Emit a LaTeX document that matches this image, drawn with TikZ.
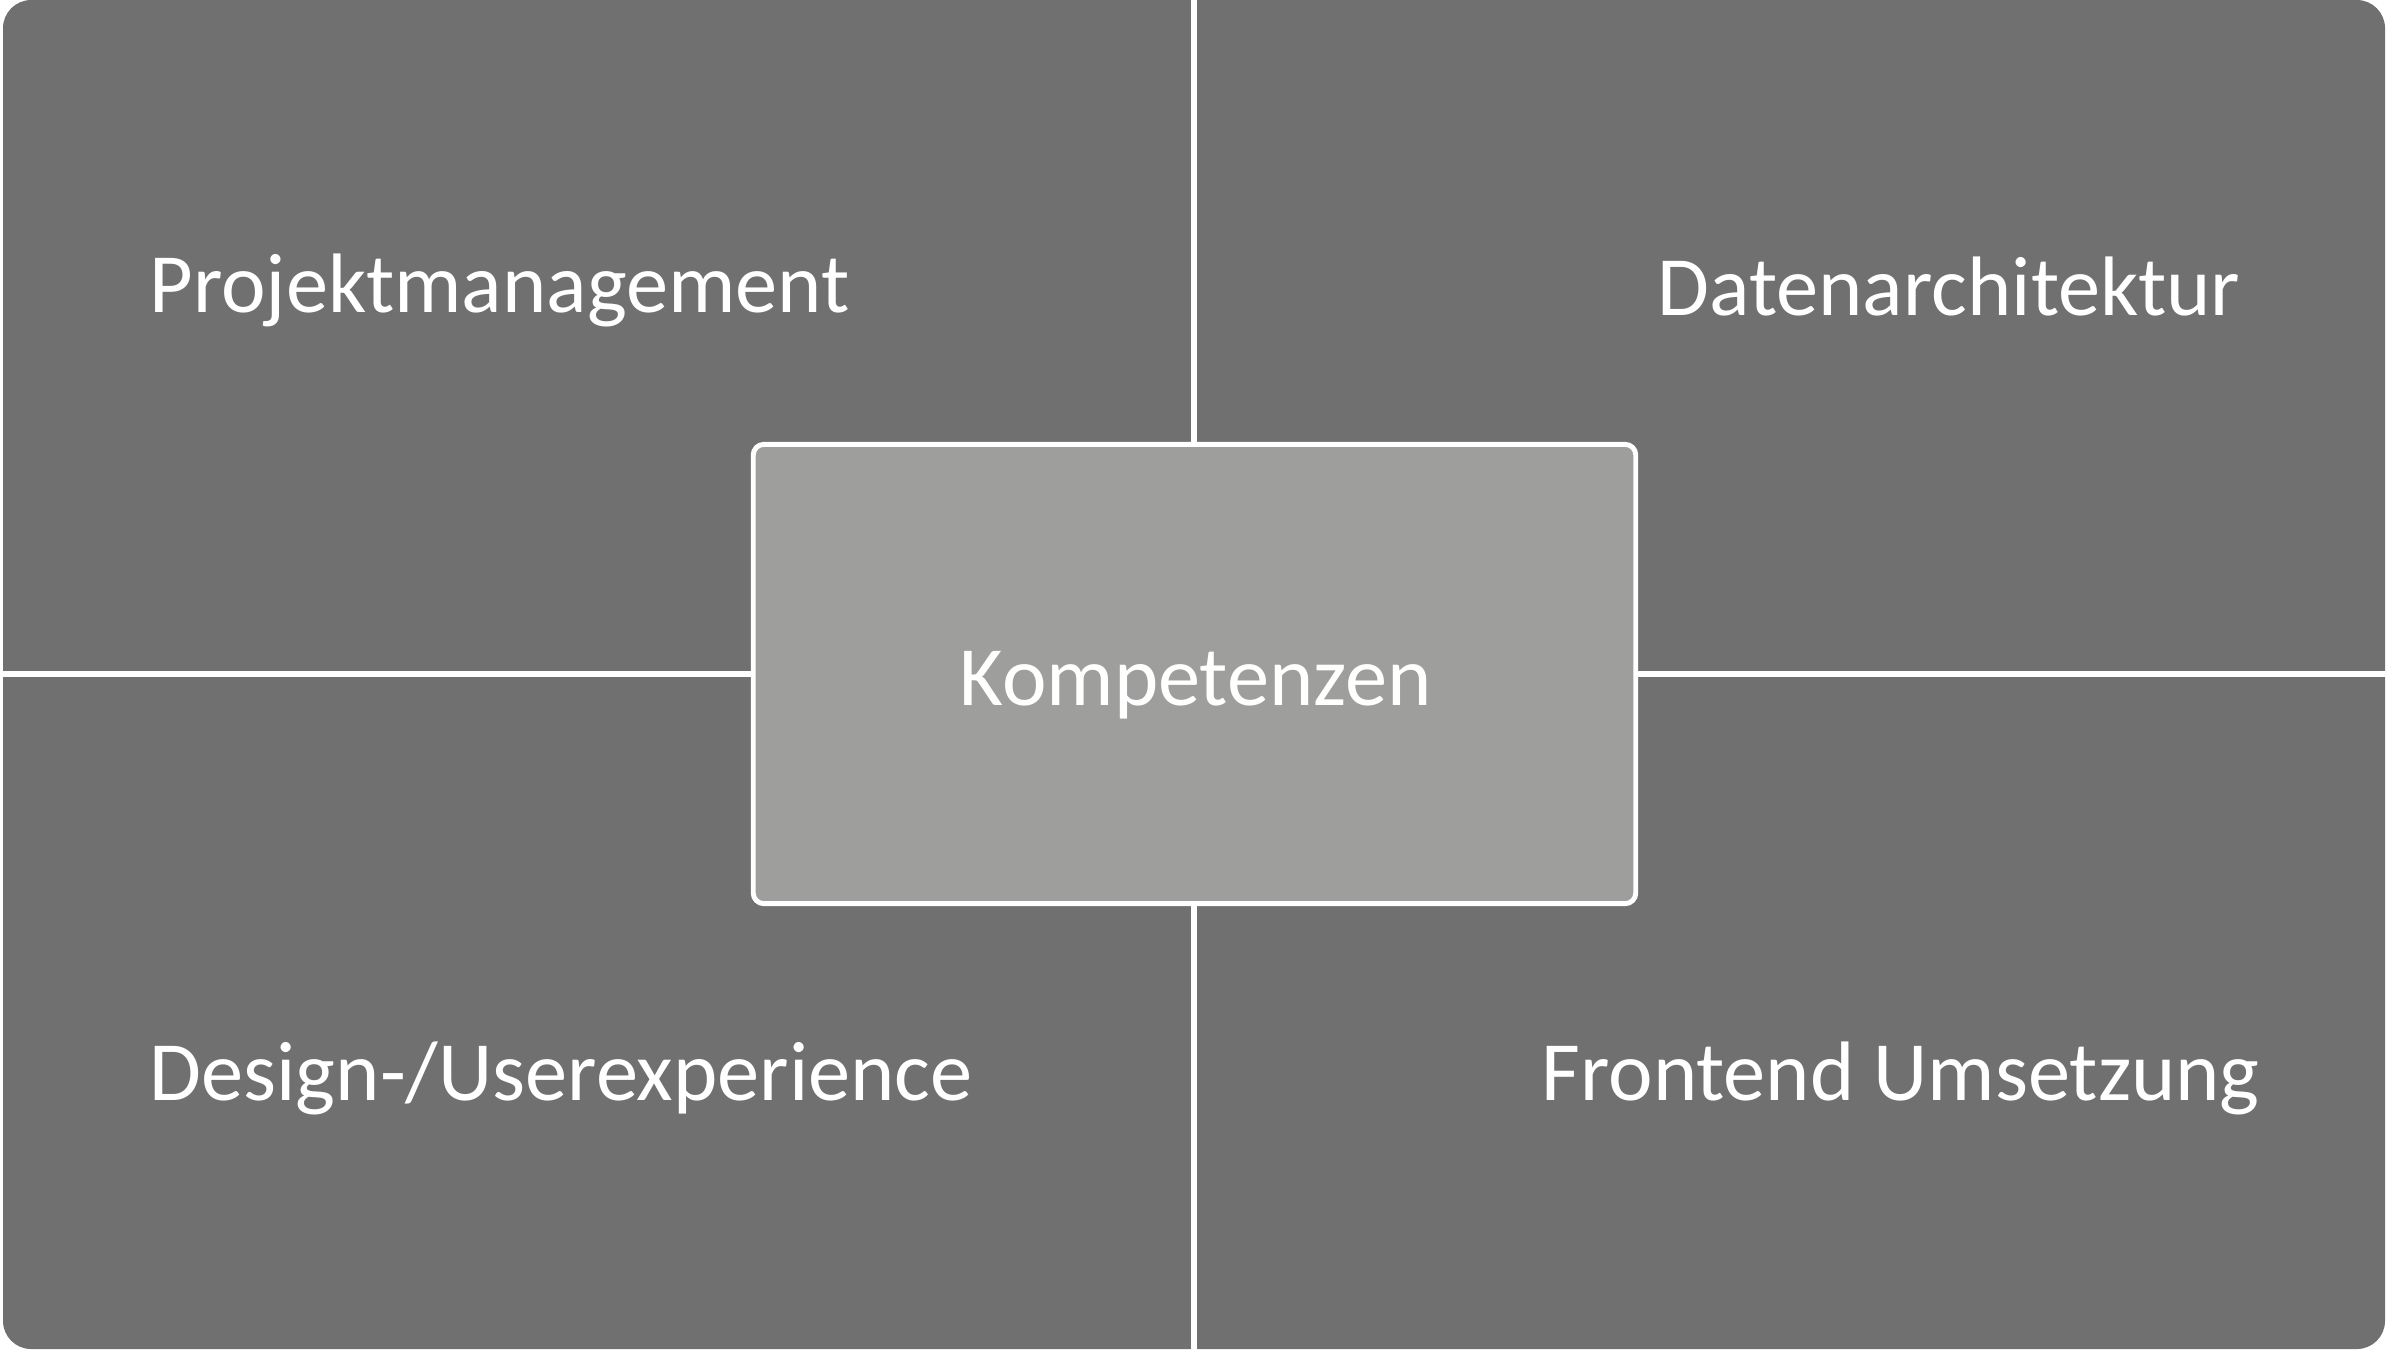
\documentclass[tikz,border=0pt]{standalone}
\usepackage{fontspec}
\setmainfont{Carlito}
\usepackage{tikz}
\definecolor{quadgray}{HTML}{707070}
\definecolor{coregray}{HTML}{9E9E9C}
\tikzset{
    label/.style={text=white,inner sep=0pt,font=\fontsize{24}{29}\selectfont},
    divider/.style={white,line width=1.7pt},
}

\begin{document}
\begin{tikzpicture}[x=0.01cm,y=-0.01cm]
    \useasboundingbox (0,0) rectangle (2388,1350);

    %quadrants
    \fill [quadgray,rounded corners=8pt] (3,0) rectangle (2385,1349);

    %center
    \node (core) [draw=white,line width=1.4pt,fill=coregray,rounded corners=3pt,
        minimum width=8.82cm,minimum height=4.59cm,inner sep=0pt] at (1194.5,674) {};
    \node (kompetenzen) [label,anchor=base west] at (959,705) {Kompetenzen};

    \coordinate (top) at (1194,0);
    \coordinate (bottom) at (1194,1350);
    \coordinate (left) at (0,674);
    \coordinate (right) at (2388,674);
    \draw [divider] (top) -- (top |- core.north);
    \draw [divider] (bottom) -- (bottom |- core.south);
    \draw [divider] (left) -- (left -| core.west);
    \draw [divider] (right) -- (right -| core.east);

    %labels
    \node (projekt) [label,anchor=base west] at (149,312) {Projektmanagement};
    \node (daten) [label,anchor=base west] at (1657,315) {Datenarchitektur};
    \node (design) [label,anchor=base west] at (149,1100) {Design-/Userexperience};
    \node (frontend) [label,anchor=base west] at (1541,1100) {Frontend Umsetzung};
\end{tikzpicture}
\end{document}
